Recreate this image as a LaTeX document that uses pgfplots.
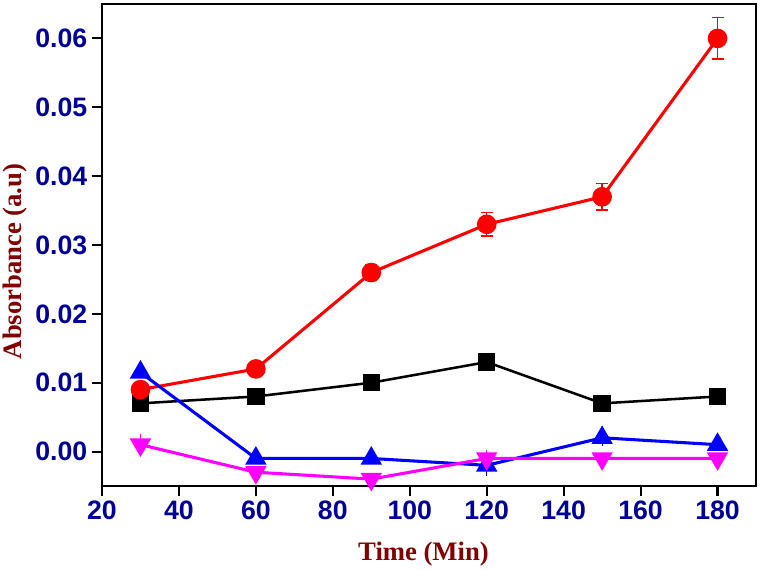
\documentclass[border=0pt]{standalone}
\usepackage{pgfplots}
\pgfplotsset{compat=1.18}
\usepackage{fontspec}
\setmainfont{Liberation Serif}
\newfontfamily\tickfont{Liberation Sans}
\definecolor{tickblue}{RGB}{0,0,150}
\definecolor{labred}{RGB}{128,0,0}
\definecolor{mag}{RGB}{255,0,255}
\begin{document}
\begin{tikzpicture}
\begin{axis}[
  scale only axis,
  width=490.5pt, height=361.5pt,
  xmin=20, xmax=190, ymin=-0.005, ymax=0.065,
  xtick={20,40,60,80,100,120,140,160,180},
  ytick={0,0.01,0.02,0.03,0.04,0.05,0.06},
  scaled y ticks=false,
  tick pos=left, tick align=outside,
  major tick length=7.5pt,
  every tick/.style={line width=1.6pt, black},
  axis line style={line width=1.6pt},
  /pgf/number format/assume math mode=true,
  ticklabel style={font=\tickfont\bfseries\fontsize{20}{24}\selectfont, text=tickblue},
  yticklabel style={/pgf/number format/.cd, fixed, fixed zerofill, precision=2},
  xlabel={Time (Min)}, ylabel={Absorbance (a.u)},
  label style={font=\bfseries\fontsize{20}{24}\selectfont, text=labred},
  xlabel style={at={(axis description cs:0.4916,-0.141)}, anchor=center},
  ylabel style={at={(axis description cs:-0.133,0.466)}, anchor=center},
  clip=false,
]
\addplot[black, line width=1.9pt, mark=square*, mark size=5.6pt] coordinates {
 (30,0.007) (60,0.008) (90,0.010) (120,0.013) (150,0.007) (180,0.008)};
\addplot[red, line width=2.3pt, mark=*, mark size=6.2pt,
  error bars/.cd, y dir=both, y explicit,
  error bar style={line width=1pt, red},
  error mark options={rotate=90, mark size=4.5pt, line width=1pt, draw=red, fill=red}] coordinates {
 (30,0.009) +- (0,0.0005) (60,0.012) +- (0,0.0006) (90,0.026) +- (0,0.0011)
 (120,0.033) +- (0,0.0017) (150,0.037) +- (0,0.0019) (180,0.060) +- (0,0.003)};
\addplot[blue, line width=2.3pt, mark=triangle*, mark size=7pt,
  error bars/.cd, y dir=both, y explicit,
  error bar style={line width=0.8pt, blue},
  error mark options={rotate=90, mark size=0pt}] coordinates {
 (30,0.0115) +- (0,0.0008) (60,-0.001) +- (0,0.0007) (90,-0.001) +- (0,0.0008)
 (120,-0.002) +- (0,0.0015) (150,0.002) +- (0,0.0012) (180,0.001) +- (0,0.0006)};
\addplot[mag, line width=2.3pt, mark=triangle*, mark size=7pt,
  mark options={rotate=180},
  error bars/.cd, y dir=both, y explicit,
  error bar style={line width=0.8pt, mag},
  error mark options={rotate=90, mark size=0pt}] coordinates {
 (30,0.001) +- (0,0.0015) (60,-0.003) +- (0,0.0006) (90,-0.004) +- (0,0.0008)
 (120,-0.001) +- (0,0.0012) (150,-0.001) +- (0,0.0008) (180,-0.001) +- (0,0.0006)};
\end{axis}
\pgfresetboundingbox
\path[use as bounding box] ([xshift=-76.5pt,yshift=-63pt]current axis.south west) rectangle ([xshift=3.75pt,yshift=3pt]current axis.north east);
\end{tikzpicture}
\end{document}
